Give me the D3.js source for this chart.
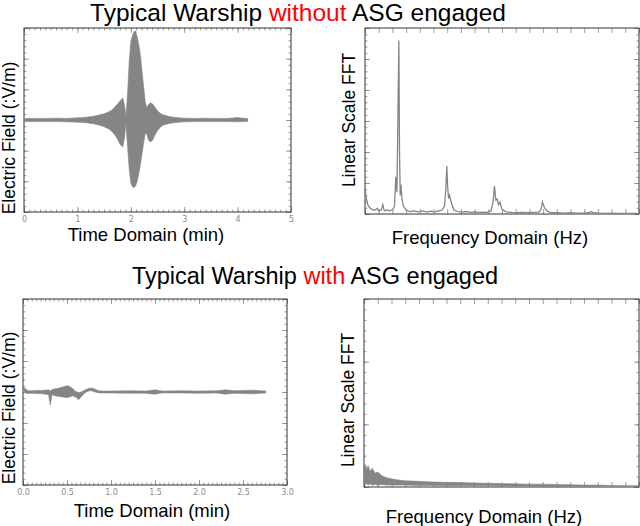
<!DOCTYPE html>
<html><head><meta charset="utf-8">
<script src="https://cdn.jsdelivr.net/npm/d3@7"></script>
<style>
html,body{margin:0;padding:0;background:#fff;}
svg{display:block;font-family:"Liberation Sans",Arial,sans-serif;}
</style></head>
<body><svg id="c" width="640" height="526"></svg>
<script>
// ---------- DATA ----------
// Top-left: time-domain envelope without ASG (minutes, field units)
const tlTime  = [0,0.2,0.4,0.6,0.8,1.0,1.1,1.2,1.3,1.4,1.5,1.6,1.65,1.7,1.75,1.8,1.85,1.88,1.91,1.94,1.97,2.0,2.03,2.06,2.09,2.12,2.15,2.18,2.21,2.24,2.27,2.3,2.33,2.37,2.41,2.45,2.5,2.55,2.6,2.7,2.8,2.9,3.0,3.2,3.4,3.6,3.8,4.0,4.1,4.19];
const tlUpper = [0.05,0.05,0.05,0.06,0.05,0.07,0.08,0.1,0.12,0.16,0.2,0.28,0.33,0.42,0.52,0.62,0.72,0.5,0.12,0.9,1.9,2.55,2.75,2.88,2.9,2.7,2.45,2.1,1.6,1.1,0.6,0.4,0.5,0.56,0.52,0.42,0.3,0.22,0.17,0.12,0.09,0.07,0.06,0.05,0.06,0.05,0.05,0.08,0.06,0.05];
const tlLower = [-0.05,-0.05,-0.05,-0.05,-0.06,-0.07,-0.08,-0.1,-0.12,-0.16,-0.22,-0.3,-0.38,-0.48,-0.62,-0.8,-0.88,-0.6,-0.12,-0.9,-1.6,-2.05,-2.18,-2.2,-2.15,-2.0,-1.75,-1.45,-1.1,-0.75,-0.45,-0.45,-0.65,-0.72,-0.65,-0.5,-0.35,-0.24,-0.17,-0.12,-0.09,-0.07,-0.06,-0.05,-0.05,-0.05,-0.05,-0.06,-0.05,-0.05];
const tlXTicks = [0,1,2,3,4,5];

// Top-right: FFT spectrum without ASG (arbitrary freq units, linear amplitude)
const trFreq = [0,0.1,0.2,0.35,0.5,0.7,0.9,1.0,1.2,1.3,1.4,1.5,1.6,1.8,2.0,2.15,2.25,2.33,2.4,2.47,2.52,2.57,2.62,2.7,2.8,3.0,3.3,3.6,3.9,4.2,4.5,4.8,5.1,5.4,5.6,5.8,5.9,5.97,6.03,6.1,6.18,6.25,6.35,6.5,6.8,7.1,7.4,7.7,8.0,8.3,8.6,8.9,9.2,9.35,9.45,9.55,9.65,9.75,9.85,10.0,10.3,10.7,11.1,11.5,11.9,12.3,12.7,12.85,12.95,13.1,13.3,13.6,14.0,14.5,15.0,15.5,16.0,16.35,16.5,16.65,17.0,17.5,18.0,18.5,19.0,19.5,20];
const trAmp  = [0.85,0.5,0.3,0.2,0.15,0.12,0.18,0.1,0.14,0.3,0.12,0.1,0.14,0.1,0.13,0.25,1.2,0.7,3.0,5.6,2.0,0.6,0.95,0.5,0.25,0.12,0.08,0.1,0.07,0.1,0.06,0.09,0.07,0.1,0.12,0.25,0.8,1.55,0.9,0.5,0.6,0.45,0.3,0.12,0.08,0.06,0.08,0.05,0.07,0.05,0.06,0.05,0.1,0.4,0.9,0.45,0.48,0.3,0.38,0.15,0.07,0.05,0.04,0.05,0.04,0.05,0.06,0.15,0.39,0.2,0.09,0.04,0.04,0.03,0.04,0.03,0.03,0.04,0.08,0.04,0.03,0.02,0.03,0.02,0.02,0.02,0.02];

// Bottom-left: time-domain envelope with ASG
const blTime  = [0,0.03,0.06,0.1,0.15,0.2,0.25,0.29,0.31,0.33,0.36,0.4,0.45,0.5,0.53,0.56,0.6,0.63,0.66,0.7,0.74,0.78,0.82,0.86,0.9,1.0,1.2,1.4,1.5,1.55,1.6,1.8,2.0,2.2,2.3,2.4,2.5,2.6,2.7,2.76];
const blUpper = [0.18,0.1,0.04,0.04,0.05,0.05,0.06,0.07,0.03,0.08,0.1,0.12,0.16,0.2,0.18,0.12,0.02,-0.02,0.0,0.06,0.11,0.13,0.09,0.04,0.03,0.03,0.04,0.03,0.07,0.04,0.03,0.04,0.03,0.04,0.07,0.04,0.05,0.06,0.04,0.03];
const blLower = [0.08,-0.04,-0.05,-0.04,-0.05,-0.05,-0.07,-0.08,-0.42,-0.08,-0.12,-0.14,-0.16,-0.18,-0.16,-0.12,-0.16,-0.25,-0.16,-0.03,0.03,0.04,0.0,-0.03,-0.03,-0.03,-0.04,-0.04,-0.07,-0.04,-0.03,-0.03,-0.04,-0.03,-0.07,-0.04,-0.05,-0.06,-0.04,-0.03];
const blXTicks = [0,0.5,1.0,1.5,2.0,2.5,3.0];

// Bottom-right: FFT spectrum envelope with ASG
const brFreq  = [0,0.1,0.2,0.3,0.45,0.6,0.8,1.0,1.3,1.6,2,2.5,3,4,5,6,7,8,9,10,11,12,13,14,15,16,17,18,19,20];
const brUpper = [0.33,0.36,0.28,0.34,0.25,0.3,0.22,0.24,0.18,0.15,0.13,0.11,0.1,0.09,0.08,0.075,0.07,0.065,0.06,0.055,0.05,0.045,0.045,0.04,0.035,0.03,0.03,0.025,0.02,0.02];
const brLower = [0.05,0.03,0.06,0.03,0.05,0.03,0.04,0.03,0.04,0.03,0.03,0.03,0.03,0.025,0.025,0.02,0.02,0.02,0.02,0.015,0.015,0.015,0.01,0.01,0.01,0.01,0.01,0.01,0.01,0.01];

const titles = [
  {pre:"Typical Warship ", hl:"without", post:" ASG engaged"},
  {pre:"Typical Warship ", hl:"with", post:" ASG engaged"}
];

// ---------- DRAW ----------
const svg = d3.select("#c");
const GREY = "#858585";

function panel(cfg){
  const g = svg.append("g");
  const x = d3.scaleLinear().domain(cfg.xDomain).range([cfg.x0, cfg.x1]);
  const y = d3.scaleLinear().domain(cfg.yDomain).range([cfg.y1, cfg.y0]);
  const axes = [
    {gen:d3.axisBottom, s:x, t:`translate(0,${cfg.y1})`, maj:cfg.xMajor, min:cfg.xMinor, lab:cfg.xLabels},
    {gen:d3.axisTop,    s:x, t:`translate(0,${cfg.y0})`, maj:cfg.xMajor, min:cfg.xMinor},
    {gen:d3.axisLeft,   s:y, t:`translate(${cfg.x0},0)`, maj:cfg.yMajor, min:cfg.yMinor},
    {gen:d3.axisRight,  s:y, t:`translate(${cfg.x1},0)`, maj:cfg.yMajor, min:cfg.yMinor}
  ];
  axes.forEach(a=>{
    if(a.min){
      g.append("g").attr("transform",a.t)
        .call(a.gen(a.s).tickValues(a.min).tickSizeInner(-2.5).tickSizeOuter(0).tickFormat(""))
        .call(s=>{s.select(".domain").remove(); s.selectAll("line").attr("stroke","#888").attr("stroke-width",0.8);});
    }
    const ax = a.gen(a.s).tickValues(a.maj).tickSizeInner(-5).tickSizeOuter(0).tickPadding(4)
      .tickFormat(a.lab ? a.lab : "");
    g.append("g").attr("transform",a.t).call(ax)
      .call(s=>{s.select(".domain").remove(); s.selectAll("line").attr("stroke","#888").attr("stroke-width",0.8);
        s.selectAll("text").attr("fill","#8a8a8a").attr("font-size",8).attr("font-family","DejaVu Sans, sans-serif");});
  });
  g.append("rect").attr("x",cfg.x0).attr("y",cfg.y0).attr("width",cfg.x1-cfg.x0).attr("height",cfg.y1-cfg.y0)
    .attr("fill","none").attr("stroke","#333").attr("stroke-width",1);
  // axis titles
  g.append("text").attr("x",cfg.xt[0]).attr("y",cfg.xt[1]).attr("text-anchor","middle")
    .attr("font-size",18.5).attr("fill","#000").text(cfg.xTitle);
  g.append("text").attr("transform",`translate(${cfg.yt[0]},${cfg.yt[1]}) rotate(-90)`)
    .attr("text-anchor","middle").attr("dominant-baseline","central")
    .attr("font-size",cfg.ytSize||17.5).attr("fill","#000").text(cfg.yTitle);
  return {g,x,y};
}

function envelope(p, xs, up, lo){
  const data = xs.map((d,i)=>({x:d,u:up[i],l:lo[i]}));
  p.g.append("path").datum(data)
    .attr("d", d3.area().x(d=>p.x(d.x)).y0(d=>p.y(d.l)).y1(d=>p.y(d.u)))
    .attr("fill",GREY).attr("stroke",GREY).attr("stroke-width",0.6);
}

const rng = (a,b,s)=>d3.range(a,b+s/2,s);

// Top-left
const pTL = panel({x0:24,x1:291,y0:28,y1:212,xDomain:[0,5],yDomain:[-3,3],
  xMajor:tlXTicks, xMinor:rng(0,5,0.1), yMajor:rng(-3,3,1), yMinor:rng(-3,3,0.2),
  xLabels:d=>d3.format("d")(d), xTitle:"Time Domain (min)", xt:[146,241],
  yTitle:"Electric Field (:V/m)", yt:[9,138]});
envelope(pTL, tlTime, tlUpper, tlLower);

// Top-right
const pTR = panel({x0:365,x1:639,y0:28,y1:214,xDomain:[0,20],yDomain:[0,6],
  xMajor:rng(0,20,1), xMinor:null, yMajor:rng(0,6,1), yMinor:rng(0,6,0.2),
  xLabels:null, xTitle:"Frequency Domain (Hz)", xt:[490,244],
  yTitle:"Linear Scale FFT", yt:[349,120]});
pTR.g.append("path").datum(trFreq.map((f,i)=>[f,trAmp[i]]))
  .attr("d", d3.line().x(d=>pTR.x(d[0])).y(d=>pTR.y(d[1])))
  .attr("fill","none").attr("stroke",GREY).attr("stroke-width",1.3);

// Bottom-left
const pBL = panel({x0:23,x1:287,y0:299,y1:485,xDomain:[0,3],yDomain:[-3,3],
  xMajor:blXTicks, xMinor:rng(0,3,0.05), yMajor:rng(-3,3,1), yMinor:rng(-3,3,0.2),
  xLabels:d=>d3.format(".1f")(d), xTitle:"Time Domain (min)", xt:[152,517],
  yTitle:"Electric Field (:V/m)", yt:[9,408]});
envelope(pBL, blTime, blUpper, blLower);

// Bottom-right
const pBR = panel({x0:364,x1:639,y0:299,y1:487,xDomain:[0,20],yDomain:[0,3],
  xMajor:rng(0,20,1), xMinor:null, yMajor:rng(0,3,1), yMinor:rng(0,3,1/6),
  xLabels:null, xTitle:"Frequency Domain (Hz)", xt:[484,523],
  yTitle:"Linear Scale FFT", yt:[348,400]});
envelope(pBR, brFreq, brUpper, brLower);

// Titles
[[298,21,24.5,titles[0]],[315,284,23.5,titles[1]]].forEach(([cx,by,fs,t])=>{
  const tx = svg.append("text").attr("x",cx).attr("y",by).attr("text-anchor","middle")
    .attr("font-size",fs).attr("fill","#000");
  tx.append("tspan").text(t.pre);
  tx.append("tspan").attr("fill","#ff0000").text(t.hl);
  tx.append("tspan").text(t.post);
});
</script></body></html>
